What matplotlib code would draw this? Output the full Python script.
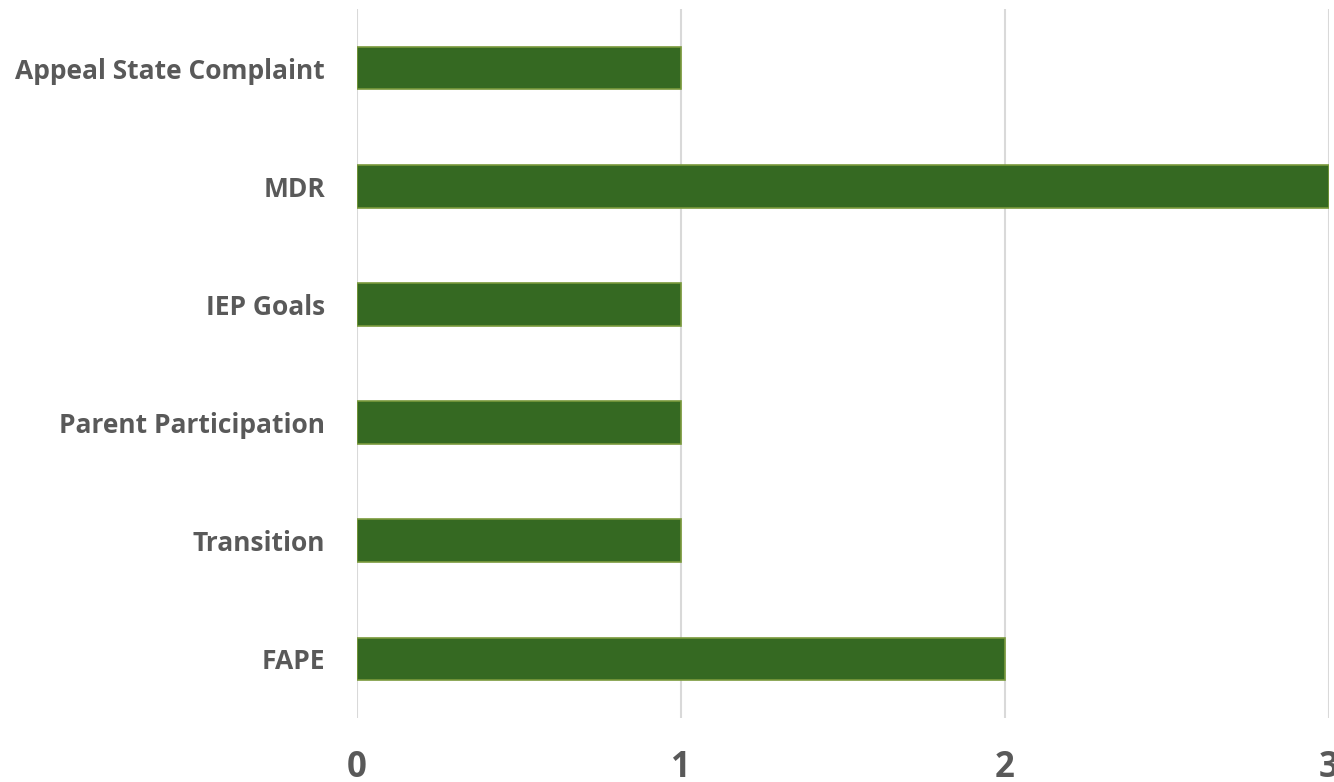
import matplotlib
matplotlib.use("Agg")
import matplotlib.pyplot as plt

categories = ["FAPE", "Transition", "Parent Participation", "IEP Goals", "MDR", "Appeal State Complaint"]
values = [2, 1, 1, 1, 3, 1]
xticks = [0, 1, 2, 3]

plt.rcParams['font.family'] = ['Open Sans', 'DejaVu Sans']

fig = plt.figure(figsize=(13.34, 7.82), dpi=100)
ax = fig.add_axes([357/1334, 1-718/782, (1329-357)/1334, (718-9)/782])

ax.barh(categories, values, height=0.36, color="#356922", edgecolor="#7A9A3C", linewidth=1.2, zorder=3)

ax.set_xlim(0, 3)
ax.set_ylim(-0.5, len(categories)-0.5)
ax.set_xticks(xticks)
ax.set_xticklabels([str(t) for t in xticks])
ax.grid(axis='x', color="#D9D9D9", linewidth=1.5, zorder=0)
ax.grid(axis='y', visible=False)
for s in ax.spines.values():
    s.set_visible(False)
ax.tick_params(axis='both', length=0)
ax.tick_params(axis='y', pad=23, labelsize=19, labelcolor="#595959")
ax.tick_params(axis='x', pad=23, labelsize=25, labelcolor="#595959")
for lbl in ax.get_yticklabels() + ax.get_xticklabels():
    lbl.set_fontweight('bold')

fig.savefig("out.png", dpi=100)
